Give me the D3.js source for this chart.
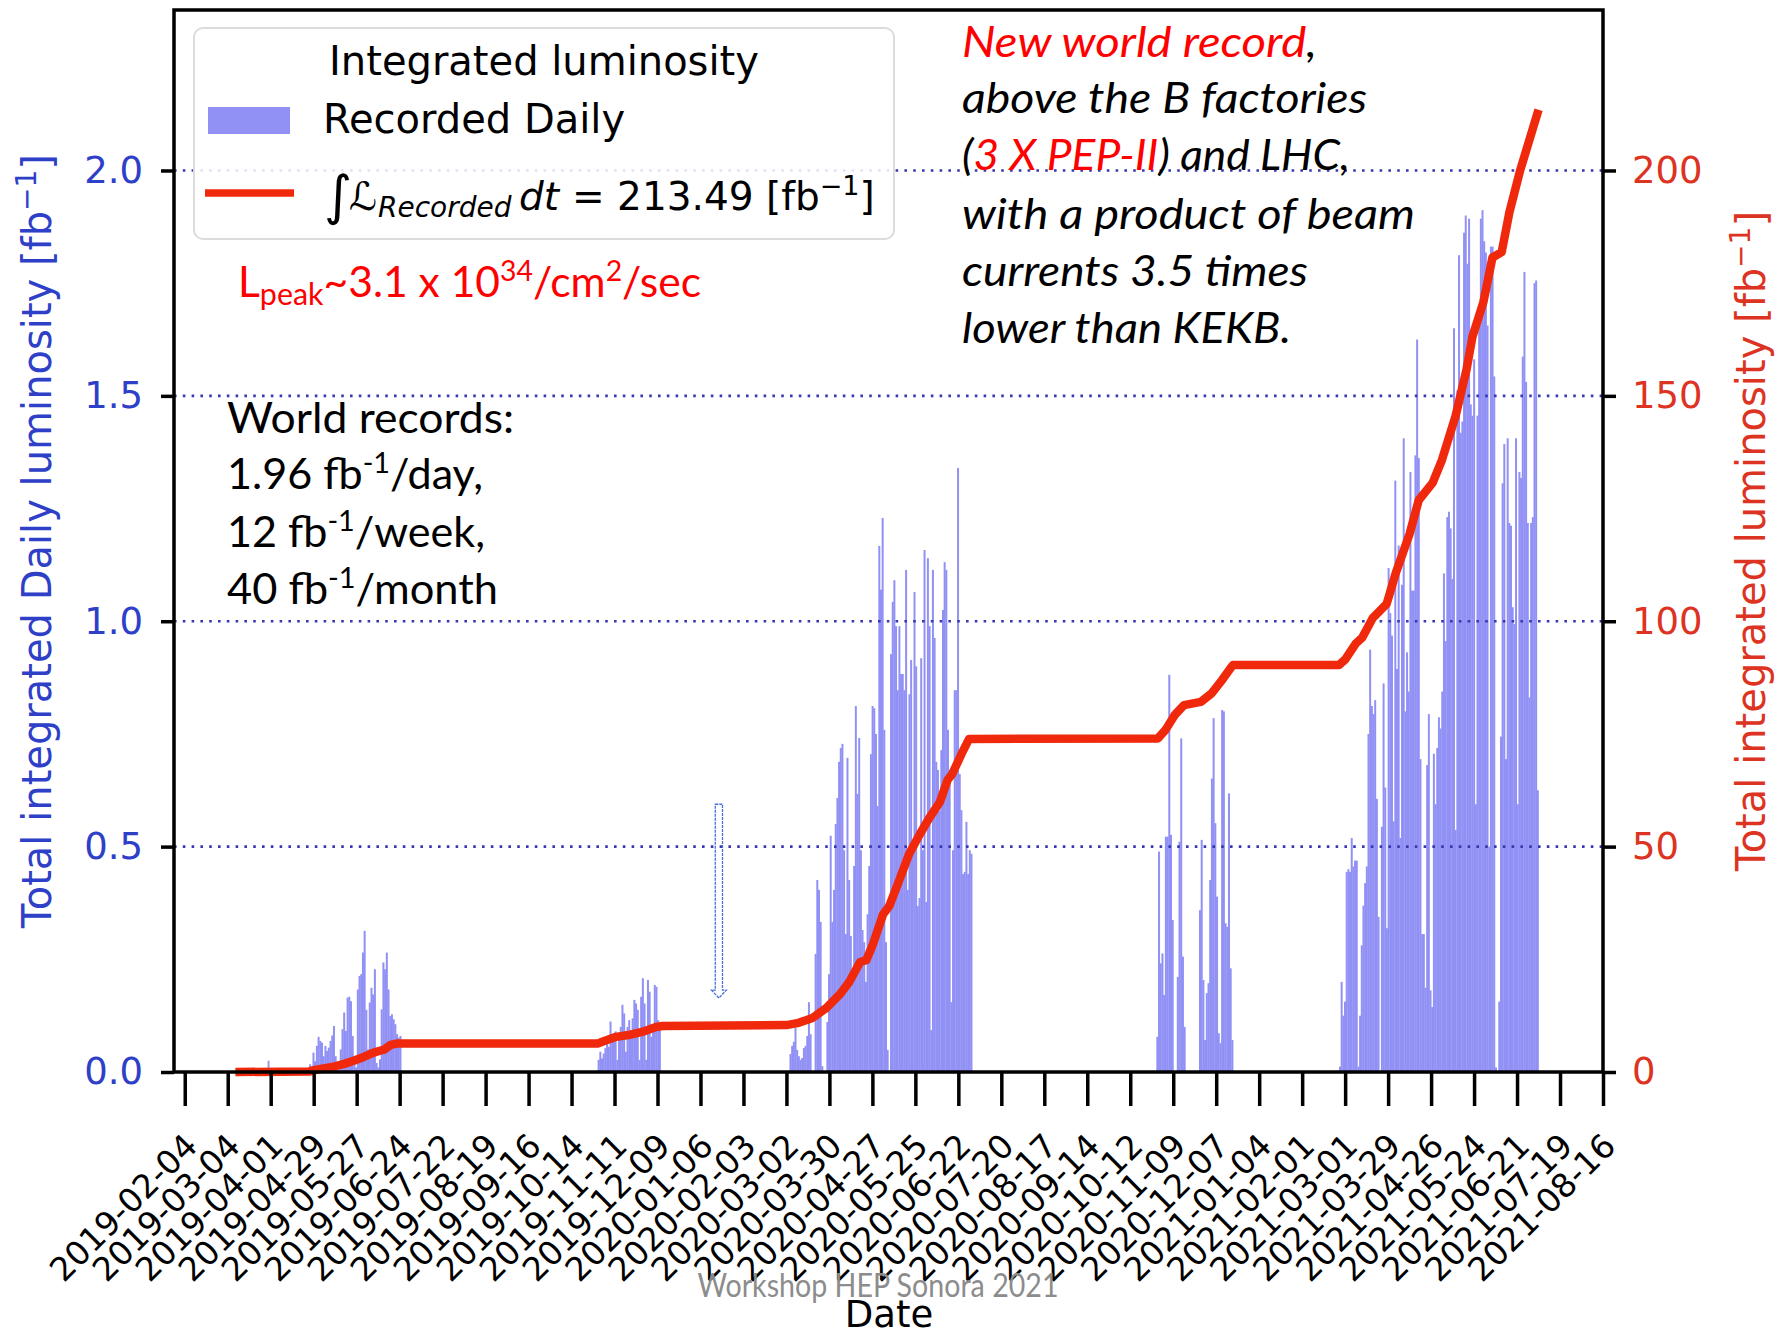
<!DOCTYPE html>
<html>
<head>
<meta charset="utf-8">
<script src="https://cdn.jsdelivr.net/npm/d3@7"></script>
<style>
body { margin: 0; background: #fff; }
svg { display: block; font-family: "DejaVu Sans", sans-serif; }
</style>
</head>
<body>
<svg id="chart" width="1783" height="1332"></svg>
<script>
// ---- data ----
var xStart = "2019-01-28", xEnd = "2021-08-16";
var tickDates = ["2019-02-04","2019-03-04","2019-04-01","2019-04-29","2019-05-27","2019-06-24","2019-07-22",
  "2019-08-19","2019-09-16","2019-10-14","2019-11-11","2019-12-09","2020-01-06","2020-02-03","2020-03-02",
  "2020-03-30","2020-04-27","2020-05-25","2020-06-22","2020-07-20","2020-08-17","2020-09-14","2020-10-12",
  "2020-11-09","2020-12-07","2021-01-04","2021-02-01","2021-03-01","2021-03-29","2021-04-26","2021-05-24",
  "2021-06-21","2021-07-19","2021-08-16"];
var leftTicks = [0, 0.5, 1.0, 1.5, 2.0];
var rightTicks = [0, 50, 100, 150, 200];
var leftMax = 2.356, rightMax = 235.6;

// daily recorded luminosity, one array per running period [fb^-1/day]
var runStarts = ["2019-03-30", "2019-04-26", "2019-10-31", "2020-03-04", "2020-10-29", "2021-02-25"];
var runEnds   = ["2019-03-31", "2019-06-25", "2019-12-11", "2020-07-01", "2020-12-18", "2021-07-05"];
var run0 = [0.025];
var run1 = [0.017, 0.01, 0.043, 0.024, 0.058, 0.078, 0.069, 0.065, 0.035, 0.058, 0.047, 0.054, 0.069, 0.081,
  0.102, 0.035, 0.005, 0.005, 0.05, 0.095, 0.132, 0.091, 0.165, 0.167, 0.157, 0.08, 0.035, 0.01, 0.183, 0.213,
  0.217, 0.265, 0.313, 0.138, 0.05, 0.154, 0.187, 0.172, 0.228, 0.02, 0.01, 0.028, 0.139, 0.243, 0.228, 0.265,
  0.183, 0.124, 0.128, 0.117, 0.106, 0.084, 0.076, 0.08];
var run2 = [0.027, 0.045, 0.03, 0.041, 0.053, 0.071, 0.056, 0.112, 0.071, 0.078, 0.09, 0.027, 0.082, 0.1, 0.149,
  0.13, 0.045, 0.1, 0.115, 0.093, 0.119, 0.16, 0.152, 0.138, 0.027, 0.167, 0.208, 0.152, 0.027, 0.204, 0.178,
  0.078, 0.104, 0.193, 0.189, 0.115, 0.1];
var run3 = [0.04, 0.058, 0.067, 0.098, 0.049, 0.035, 0.027, 0.031, 0.053, 0.058, 0.08, 0.155, 0.084, 0, 0,
  0.262, 0.426, 0.404, 0.333, 0.013, 0, 0, 0.111, 0.217, 0.524, 0.333, 0.404, 0.55, 0.608, 0.688, 0.719, 0.728,
  0.492, 0.306, 0.697, 0.426, 0.302, 0.2, 0.457, 0.812, 0.617, 0.741, 0.492, 0.315, 0.288, 0.2, 0.35, 0.457,
  0.705, 0.812, 0.807, 0.75, 0.59, 1.167, 1.07, 1.229, 0.759, 0.288, 0.049, 0, 0.927, 1.043, 1.091, 0.989,
  0.847, 0.989, 0.883, 0.883, 0.847, 1.114, 0.404, 0.838, 0.914, 0.492, 1.065, 0.9, 0.368, 0.386, 0.918, 0.492,
  1.158, 0.377, 1.14, 0.989, 0.093, 1.114, 0.963, 0.688, 0.67, 0.58, 0.714, 1.025, 1.131, 1.114, 0.759, 0.67,
  0.155, 0.492, 0.847, 0.847, 1.34, 0.661, 0.581, 0.439, 0.444, 0.555, 0.439, 0.492, 0.484];
var run4 = [0.078, 0.489, 0.241, 0.263, 0.171, 0.522, 0.522, 0.881, 0.526, 0.337, 0, 0, 0.211, 0.511, 0.74,
  0.256, 0.1, 0, 0, 0, 0, 0, 0, 0, 0, 0.359, 0.515, 0.204, 0.071, 0.175, 0.197, 0.426, 0.651, 0.785, 0.552,
  0.389, 0.086, 0.064, 0.803, 0.8, 0.33, 0.322, 0.618, 0.23, 0.071];
var run5 = [0.012, 0.2, 0.125, 0.156, 0.444, 0.45, 0.444, 0.519, 0.456, 0.469, 0.469, 0.012, 0.125, 0.281,
  0.369, 0.419, 0.456, 0.75, 0.937, 0.812, 0.794, 0.825, 0.606, 0.344, 0, 0.544, 0.862, 0.631, 0.319, 1.118,
  1.018, 0.968, 0.556, 1.312, 0.894, 1.168, 0.519, 1.081, 1.406, 0.8, 0.931, 0.844, 1.331, 1.068, 1.068, 1.368,
  1.625, 1.362, 0.694, 0.306, 0.306, 0.187, 0.681, 0.794, 0.181, 0.144, 0.706, 0.594, 0.719, 0.787, 0.762,
  0.844, 1.106, 0.956, 1.231, 1.243, 1.206, 1.094, 1.65, 0.537, 1.512, 1.812, 1.418, 1.443, 1.862, 1.9, 1.793,
  1.893, 1.481, 1.456, 1.581, 0.594, 1.456, 1.7, 1.893, 1.912, 1.843, 1.818, 1.656, 0.5, 1.831, 1.831, 1.543,
  0.01, 0, 0.156, 0.744, 1.306, 1.393, 0.694, 1.406, 1.218, 1.212, 1.031, 0.994, 1.406, 0.594, 1.331, 1.318,
  1.587, 1.775, 1.531, 1.218, 0.831, 1.218, 1.231, 1.75, 1.756, 0.625];
var runValues = [run0, run1, run2, run3, run4, run5];

// integrated luminosity (right axis) [fb^-1]
var cumDates = ["2019-03-09","2019-04-26","2019-04-29","2019-05-12","2019-05-19","2019-05-25","2019-06-01",
  "2019-06-07","2019-06-14","2019-06-18","2019-06-22","2019-10-31","2019-11-03","2019-11-12","2019-11-20",
  "2019-11-29","2019-12-08","2019-12-12","2020-03-02","2020-03-10","2020-03-19","2020-03-28","2020-04-06",
  "2020-04-12","2020-04-19","2020-04-23","2020-04-27","2020-05-04","2020-05-08","2020-05-14","2020-05-21",
  "2020-05-28","2020-06-03","2020-06-10","2020-06-15","2020-06-18","2020-06-24","2020-06-29","2020-10-30",
  "2020-11-04","2020-11-10","2020-11-16","2020-11-27","2020-12-04","2020-12-10","2020-12-17","2020-12-18",
  "2021-02-25","2021-03-01","2021-03-08","2021-03-12","2021-03-19","2021-03-28","2021-04-03","2021-04-12",
  "2021-04-18","2021-04-27","2021-05-03","2021-05-12","2021-05-19","2021-05-23","2021-05-30","2021-06-05",
  "2021-06-11","2021-06-16","2021-06-23","2021-07-05"];
var cumValues = [0, 0.1, 0.4, 1.2, 1.8, 2.5, 3.4, 4.3, 5.0, 6.0, 6.3, 6.3, 6.7, 7.8, 8.2, 8.9, 10.0, 10.2,
  10.4, 10.9, 12.0, 14.2, 17.3, 20.0, 24.4, 24.8, 28.0, 35.0, 36.8, 42.1, 48.4, 52.8, 56.3, 59.9, 64.8, 66.1,
  70.5, 73.9, 74.0, 75.9, 79.2, 81.4, 82.1, 84.0, 86.6, 89.9, 90.3, 90.3, 91.5, 95.1, 96.3, 100.7, 103.8,
  110.7, 119.4, 126.9, 130.7, 135.7, 145.6, 155.7, 163.2, 170.7, 180.7, 181.9, 190.7, 200.0, 213.49];
var totalLumi = 213.49;

// thin blue arrow marker on the slide
var arrowDate = "2020-01-18", arrowFrom = 0.594, arrowTo = 0.164;

// ---- drawing ----
var barColor = "#9090f5", lineColor = "#f0290c", blueText = "#2e40c8", redText = "#dd3322";
var svg = d3.select("#chart");
var parseDay = d3.utcParse("%Y-%m-%d");

var x = d3.scaleUtc().domain([parseDay(xStart), parseDay(xEnd)]).range([174, 1603]);
var yL = d3.scaleLinear().domain([0, leftMax]).range([1072, 10]);
var yR = d3.scaleLinear().domain([0, rightMax]).range([1072, 10]);

// daily bars
var bars = [];
runValues.forEach(function(vals, r) {
    var t0 = parseDay(runStarts[r]).getTime(),
        t1 = parseDay(runEnds[r]).getTime(),
        step = (t1 - t0) / vals.length;
    vals.forEach(function(v, i) {
        bars.push({a: new Date(t0 + i * step), b: new Date(t0 + (i + 1) * step), v: v});
    });
});
svg.append("g").selectAll(".bar")
    .data(bars)
  .enter().append("rect")
    .attr("class", "bar")
    .attr("x", function(d) { return x(d.a); })
    .attr("width", function(d) { return x(d.b) - x(d.a) + 0.3; })
    .attr("y", function(d) { return yL(d.v); })
    .attr("height", function(d) { return yL(0) - yL(d.v); })
    .attr("fill", barColor);

// legend box (under grid)
var legend = svg.append("g");
legend.append("rect")
    .attr("x", 194).attr("y", 28).attr("width", 700).attr("height", 211).attr("rx", 9)
    .attr("fill", "#fff").attr("fill-opacity", 0.85)
    .attr("stroke", "#dcdcdc").attr("stroke-width", 2);

// grid
svg.append("g").selectAll("line")
    .data(leftTicks.filter(function(v) { return v > 0; }))
  .enter().append("line")
    .attr("x1", x.range()[0]).attr("x2", x.range()[1])
    .attr("y1", function(d) { return yL(d); }).attr("y2", function(d) { return yL(d); })
    .attr("stroke", "#3838b0").attr("stroke-width", 2.6).attr("stroke-dasharray", "2.6,6.2");

// arrow marker
var ax = x(parseDay(arrowDate)), aTop = yL(arrowFrom), aTip = yL(arrowTo);
svg.append("path")
    .attr("d", "M" + (ax - 3.6) + "," + aTop + "H" + (ax + 3.6) + "V" + (aTip - 8) + "H" + (ax + 7.5) +
               "L" + ax + "," + aTip + "L" + (ax - 7.5) + "," + (aTip - 8) + "H" + (ax - 3.6) + "Z")
    .attr("fill", "none").attr("stroke", "#4a70d8").attr("stroke-width", 1.3).attr("stroke-dasharray", "3,1");

// integrated luminosity line
var cum = cumDates.map(function(d, i) { return {date: parseDay(d), v: cumValues[i]}; });
svg.append("path")
    .datum(cum)
    .attr("fill", "none").attr("stroke", lineColor).attr("stroke-width", 8.5)
    .attr("stroke-linejoin", "round")
    .attr("d", d3.line().x(function(d) { return x(d.date); }).y(function(d) { return yR(d.v); }));

// legend contents
legend.raise();
legend.select("rect").lower();
legend.append("text").attr("x", 544).attr("y", 75).attr("text-anchor", "middle")
    .attr("font-size", 40).text("Integrated luminosity");
legend.append("rect").attr("x", 208).attr("y", 107).attr("width", 82).attr("height", 27).attr("fill", barColor);
legend.append("text").attr("x", 323).attr("y", 133).attr("font-size", 40).text("Recorded Daily");
legend.append("line").attr("x1", 205).attr("x2", 294).attr("y1", 193).attr("y2", 193)
    .attr("stroke", lineColor).attr("stroke-width", 7.5);
var mt = legend.append("text").attr("y", 210).attr("font-size", 39);
mt.append("tspan").attr("x", 324).attr("font-size", 54).attr("dy", 4).text("\u222B");
mt.append("tspan").attr("x", 349).attr("dy", -4).attr("font-style", "italic").text("\u2112");
mt.append("tspan").attr("x", 378).attr("dy", 7).attr("font-size", 28).attr("font-style", "italic").text("Recorded");
mt.append("tspan").attr("x", 519).attr("dy", -7).attr("font-style", "italic").text("dt");
mt.append("tspan").attr("x", 572).text("= " + totalLumi.toFixed(2) + " [fb");
mt.append("tspan").attr("dy", -15).attr("font-size", 27).text("\u22121");
mt.append("tspan").attr("dy", 15).text("]");

// frame
svg.append("rect").attr("x", 174).attr("y", 10).attr("width", 1429).attr("height", 1062)
    .attr("fill", "none").attr("stroke", "#000").attr("stroke-width", 3.5);

// axes
var xAxis = svg.append("g").attr("transform", "translate(0,1072)")
    .call(d3.axisBottom(x)
        .tickValues(tickDates.map(parseDay))
        .tickFormat(d3.utcFormat("%Y-%m-%d"))
        .tickSize(34).tickSizeOuter(0));
xAxis.select(".domain").remove();
xAxis.selectAll(".tick line").attr("stroke", "#000").attr("stroke-width", 3.5);
xAxis.selectAll(".tick text")
    .attr("font-size", 33).attr("font-family", "DejaVu Sans").attr("fill", "#000")
    .attr("text-anchor", "end").attr("x", 0).attr("y", 0).attr("dy", 0)
    .attr("transform", "translate(14,76) rotate(-45)");

var lAxis = svg.append("g").attr("transform", "translate(174,0)")
    .call(d3.axisLeft(yL).tickValues(leftTicks).tickFormat(d3.format(".1f")).tickSize(13).tickPadding(18).tickSizeOuter(0));
lAxis.select(".domain").remove();
lAxis.selectAll(".tick line").attr("stroke", "#000").attr("stroke-width", 3.5);
lAxis.selectAll(".tick text").attr("font-size", 37).attr("font-family", "DejaVu Sans").attr("fill", blueText);

var rAxis = svg.append("g").attr("transform", "translate(1603,0)")
    .call(d3.axisRight(yR).tickValues(rightTicks).tickFormat(d3.format("d")).tickSize(13).tickPadding(16).tickSizeOuter(0));
rAxis.select(".domain").remove();
rAxis.selectAll(".tick line").attr("stroke", "#000").attr("stroke-width", 3.5);
rAxis.selectAll(".tick text").attr("font-size", 37).attr("font-family", "DejaVu Sans").attr("fill", redText);

// axis titles
function axisTitle(tx, color, label) {
    var t = svg.append("text").attr("transform", "translate(" + tx + ",541) rotate(-90)")
        .attr("text-anchor", "middle").attr("font-size", 40).attr("fill", color);
    t.append("tspan").text(label + " [fb");
    t.append("tspan").attr("dy", -15).attr("font-size", 28).text("\u22121");
    t.append("tspan").attr("dy", 15).text("]");
}
axisTitle(51, blueText, "Total integrated Daily luminosity");
axisTitle(1765, redText, "Total integrated luminosity");

svg.append("text").attr("x", 889).attr("y", 1327).attr("text-anchor", "middle").attr("font-size", 37).text("Date");

// slide annotations (Calibri-like)
function note(xp, yp, len, italic, parts) {
    var t = svg.append("text").attr("x", xp).attr("y", yp)
        .attr("font-family", "Lato, 'Open Sans', sans-serif").attr("font-size", 42)
        .attr("textLength", len).attr("lengthAdjust", "spacingAndGlyphs");
    if (italic) t.attr("font-style", "italic");
    parts.forEach(function(p) {
        var s = t.append("tspan").text(p.t).attr("fill", p.c || "#000");
        if (p.s) s.attr("font-size", p.s);
        if (p.dy) s.attr("dy", p.dy);
    });
    return t;
}
var red = "#ff0000";
note(238, 297, 463, false, [{t: "L", c: red}, {t: "peak", c: red, s: 30, dy: 8}, {t: "~3.1 x 10", c: red, dy: -8},
    {t: "34", c: red, s: 28, dy: -16}, {t: "/cm", c: red, dy: 16}, {t: "2", c: red, s: 28, dy: -16},
    {t: "/sec", c: red, dy: 16}]);

note(227, 433, 287, false, [{t: "World records:"}]);
note(227, 489, 256, false, [{t: "1.96 fb"}, {t: "-1", s: 28, dy: -16}, {t: "/day,", dy: 16}]);
note(227, 547, 258, false, [{t: "12 fb"}, {t: "-1", s: 28, dy: -16}, {t: "/week,", dy: 16}]);
note(227, 604, 271, false, [{t: "40 fb"}, {t: "-1", s: 28, dy: -16}, {t: "/month", dy: 16}]);

note(962, 57, 355, true, [{t: "New world record", c: red}, {t: ","}]);
note(962, 113, 405, true, [{t: "above the B factories"}]);
note(962, 170, 388, true, [{t: "("}, {t: "3 X PEP-II", c: red}, {t: ") and LHC,"}]);
note(962, 229, 453, true, [{t: "with a product of beam"}]);
note(962, 286, 346, true, [{t: "currents 3.5 times"}]);
note(962, 343, 329, true, [{t: "lower than KEKB."}]);

svg.append("text").attr("x", 878).attr("y", 1297).attr("text-anchor", "middle")
    .attr("font-family", "Lato, 'Open Sans', sans-serif").attr("font-size", 32).attr("fill", "#8c8c8c")
    .attr("textLength", 361).attr("lengthAdjust", "spacingAndGlyphs")
    .text("Workshop HEP Sonora 2021");
</script>
</body>
</html>
